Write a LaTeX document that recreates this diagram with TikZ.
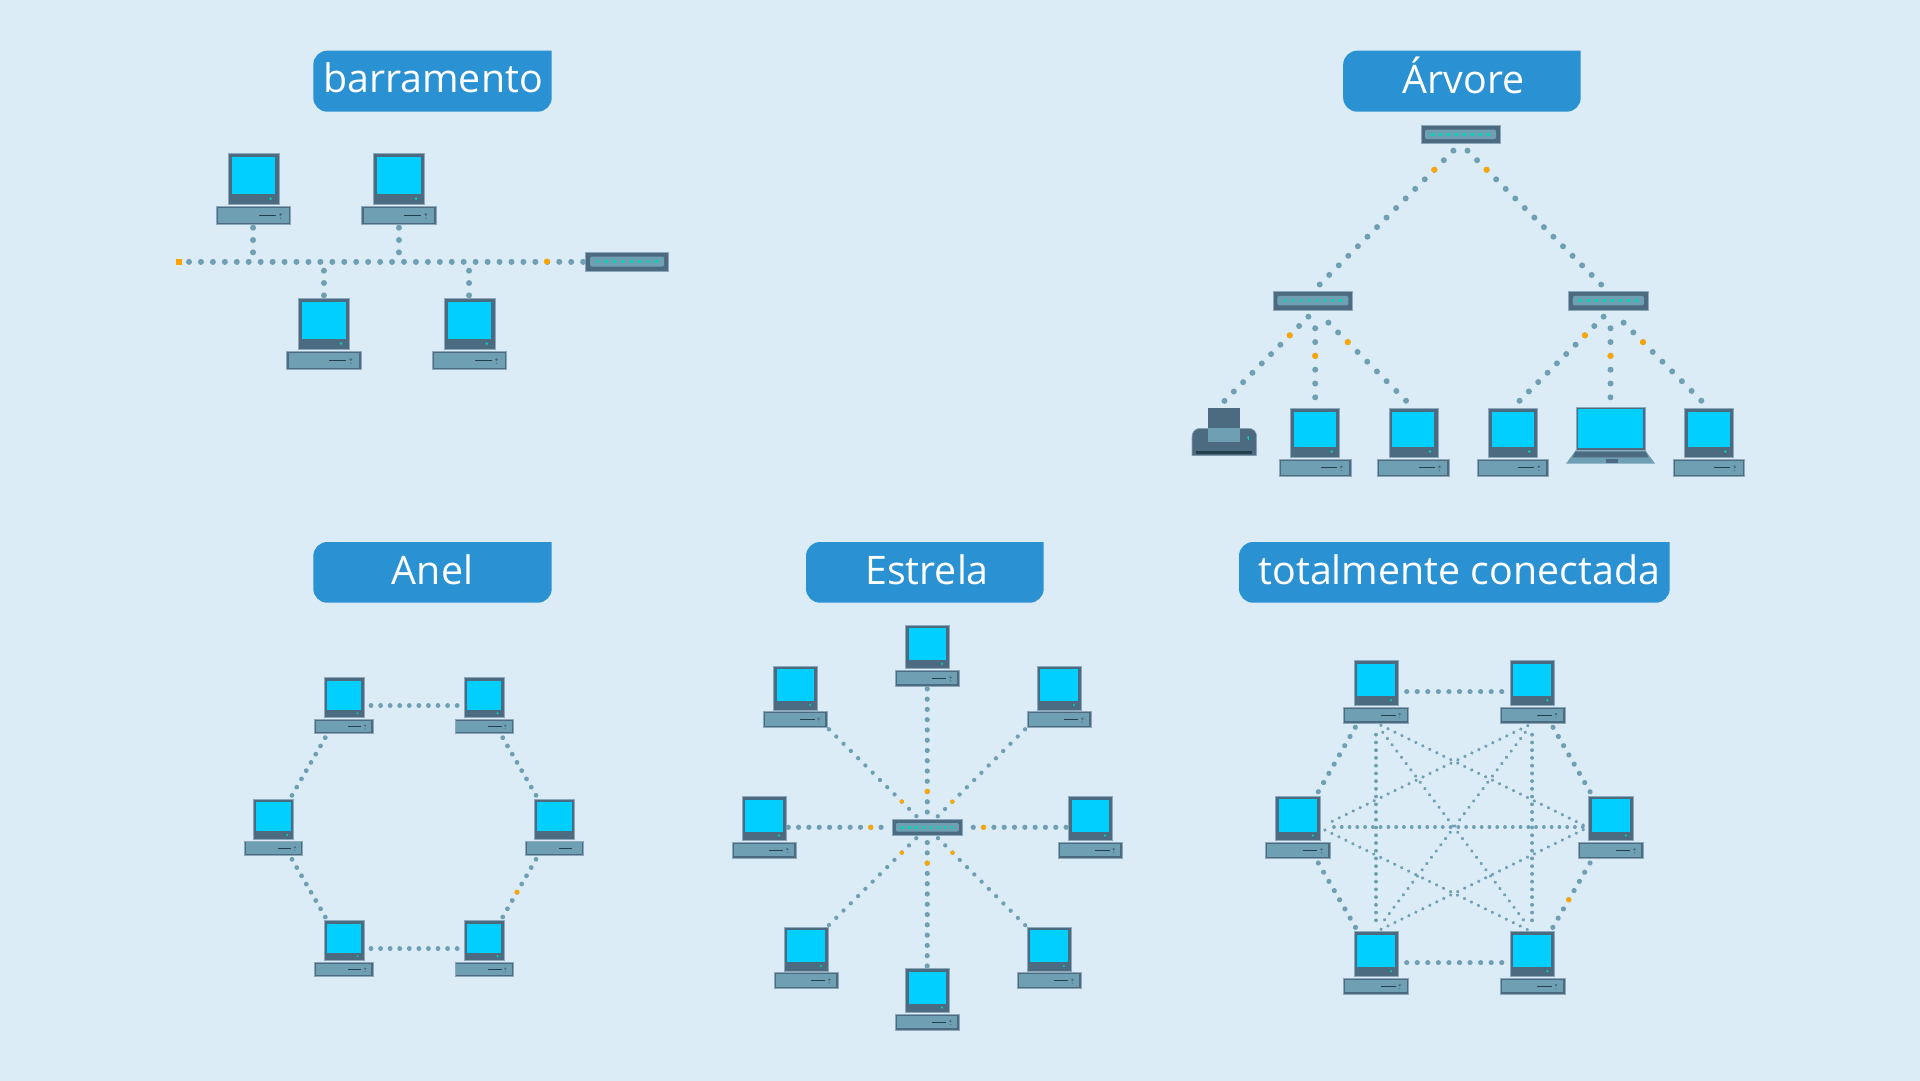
\documentclass[tikz,border=0pt]{standalone}
\usepackage{fontspec}
\setmainfont{Open Sans}
\usetikzlibrary{calc}
\definecolor{bgc}{HTML}{DCECF7}
\definecolor{titlec}{HTML}{2A91D3}
\definecolor{darkc}{HTML}{4C6B80}
\definecolor{lightc}{HTML}{6E9FB2}
\definecolor{edgec}{HTML}{8CA8BA}
\definecolor{screenc}{HTML}{00CFFF}
\definecolor{ledc}{HTML}{00D6B4}
\definecolor{orangec}{HTML}{FFA500}
\definecolor{slotc}{HTML}{24404C}
\tikzset{
  hitbox/.style={inner sep=0pt,outer sep=0pt},
  titletext/.style={text=white,font=\fontsize{29.5}{35}\selectfont,anchor=base,inner sep=0pt},
  shell/.style={fill=darkc,draw=edgec,line width=0.4pt},
  panel/.style={fill=lightc},
  screen/.style={fill=screenc},
  led/.style={fill=ledc},
  linkdots/.style={draw=lightc,line cap=round,shorten >=-1pt}
}
% [k] orange dot index, period, dot size, start, start offset, end, end offset
\newcommand\dotlink[7][]{%
  \pgfmathsetmacro\dotgap{#2*0.75}\pgfmathsetmacro\dotw{#3*0.75}\pgfmathsetmacro\dotr{#3*0.375}%
  \draw[linkdots,line width=\dotw pt,dash pattern=on 0.01pt off \dotgap pt] ([shift={(#5)}]#4) -- ([shift={(#7)}]#6);%
  \ifx\relax#1\relax\else
    \pgfmathsetmacro\dotpos{#1*#2*0.75}%
    \fill[orangec] ($([shift={(#5)}]#4)!\dotpos pt!([shift={(#7)}]#6)$) circle[radius=\dotr pt];%
  \fi}
% [1 = led and knob] name, cx, top, monitor width
\newcommand\mypc[5][1]{%
  \pgfmathsetmacro\pcs{#5/51}\pgfmathsetmacro\pcw{74.4*\pcs*0.75}\pgfmathsetmacro\pch{71.4*\pcs*0.75}\pgfmathsetmacro\pcmid{#4+35.7*\pcs}%
  \node[hitbox,minimum width=\pcw pt,minimum height=\pch pt] (#2) at (#3,\pcmid) {};%
  \begin{scope}[shift={(#3,#4)},scale=\pcs]
    \filldraw[shell] (-25.5,0) rectangle (25.5,51);
    \fill[screen] (-21.8,3.7) rectangle (21.8,40.7);
    \filldraw[shell] (-37.2,53) rectangle (37.2,71.4);
    \fill[panel] (-35.2,55) rectangle (35.2,69.4);
    \draw[slotc,line width=0.7pt] (5.5,62.2) -- (22.5,62.2);
    \ifnum#1=1
      \fill[led] (17.3,45.3) circle[radius=1.4];
      \fill[darkc] (27.2,61.2) circle[radius=1.5];
      \fill[darkc] (27.2,65) circle[radius=0.7];
    \fi
  \end{scope}}
% name, cx, cy, width
\newcommand\hubbox[4]{%
  \pgfmathsetmacro\hubs{#4/83}\pgfmathsetmacro\hubw{#4*0.75}\pgfmathsetmacro\hubh{#4*0.2336*0.75}%
  \node[hitbox,minimum width=\hubw pt,minimum height=\hubh pt] (#1) at (#2,#3) {};%
  \begin{scope}[shift={(#2,#3)},scale=\hubs]
    \filldraw[shell] (-41.5,-9.7) rectangle (41.5,9.7);
    \fill[panel,rounded corners=1pt] (-37,-5) rectangle (37,5);
    \foreach \i in {0,...,7} \fill[led] ({-29.2+8.33*\i-1.4},-1.4) rectangle ++(2.8,2.8);
  \end{scope}}
% name, x1, y1, x2, y2, text x, baseline y, text
\newcommand\titlebox[8]{%
  \fill[titlec,rounded corners=10.5pt] (#4,#3) -- (#4,#5) -- (#2,#5) -- (#2,#3) -- ($(#4,#3)+(-1,0)$);
  \node[titletext] (#1) at (#6,#7) {#8};}

\begin{document}
\begin{tikzpicture}[x=0.75pt,y=-0.75pt]
\useasboundingbox (0,0) rectangle (1920,1081);
\fill[bgc] (0,0) rectangle (1920,1081);

\titlebox{tbus}{313.3}{50.7}{551.7}{111.7}{433}{93}{barramento}
\titlebox{ttree}{1343.2}{50.7}{1580.7}{111.7}{1463.6}{93.7}{Árvore}
\titlebox{tring}{313.3}{542}{551.7}{602.7}{432.5}{584}{Anel}
\titlebox{tstar}{806}{542}{1043.7}{602.7}{927}{584}{Estrela}
\titlebox{tmesh}{1239}{542}{1669.7}{602.7}{1459.3}{584}{totalmente conectada}

% barramento
\mypc{b1}{253.3}{153.3}{51}
\mypc{b2}{398.7}{153.3}{51}
\mypc{b3}{323.7}{298.3}{51}
\mypc{b4}{469.3}{298.3}{51}
\hubbox{bsw}{627.2}{261.5}{83}
\coordinate (busleft) at (178.7,261.5);
\coordinate (j1) at (253.3,252.3);
\coordinate (j2) at (398.7,252.3);
\coordinate (j3) at (323.7,270.7);
\coordinate (j4) at (469.3,270.7);
\dotlink[30]{11.93}{6}{busleft}{10.3,0}{bsw.west}{-3,0}
\fill[orangec] ($(busleft)+(-3,-3)$) rectangle ($(busleft)+(3,3)$);
\dotlink{12.3}{6}{b1.south}{0,3}{j1}{0,0}
\dotlink{12.3}{6}{b2.south}{0,3}{j2}{0,0}
\dotlink{12.3}{6}{j3}{0,0}{b3.north}{0,-3}
\dotlink{12.3}{6}{j4}{0,0}{b4.north}{0,-3}

% Arvore
\hubbox{h0}{1460.6}{134.35}{79.6}
\hubbox{h1}{1312.9}{300.65}{79.6}
\hubbox{h2}{1608.3}{300.65}{79.6}
\mypc{p1}{1315.2}{408}{49}
\mypc{p2}{1413.3}{408}{49}
\mypc{p3}{1512.6}{408}{49}
\mypc{p4}{1708.7}{408}{49}
% printer
\node[hitbox,minimum width=48.5pt,minimum height=36pt] (printer) at (1224.35,431.7) {};
\begin{scope}[shift={(1224.35,407.7)}]
  \fill[darkc] (-16,0) rectangle (16,21);
  \filldraw[shell,rounded corners=6pt] (-32.35,48) -- (-32.35,20.6) -- (32.35,20.6) -- (32.35,48);
  \fill[panel] (-16,20.6) rectangle (16,34);
  \fill[led] (23.2,28) rectangle (24.3,32.5);
  \fill[led] (22.5,29) rectangle (25,30);
  \fill[slotc] (-28,43.3) rectangle (28,46.3);
\end{scope}
% laptop
\node[hitbox,minimum width=66.75pt,minimum height=42pt] (laptop) at (1610.5,435.7) {};
\begin{scope}[shift={(1610.5,407.7)}]
  \fill[panel] (-34.4,42) -- (34.4,42) -- (44.5,56) -- (-44.5,56) -- cycle;
  \filldraw[shell] (-34.4,0) rectangle (34.4,42.3);
  \fill[screen] (-32.8,1.7) rectangle (32.8,40.7);
  \fill[darkc] (-35,44) -- (35,44) -- (38,49.7) -- (-38,49.7) -- cycle;
  \fill[darkc] (-4.5,51.3) rectangle (7.5,55.3);
\end{scope}
\dotlink[2]{13.5}{6}{h0.south}{-7.2,7}{h1.north}{6.9,-7}
\dotlink[2]{13.5}{6}{h0.south}{6.9,7}{h2.north}{-7.3,-7}
\dotlink[2]{13.2}{6}{h1.south}{-4.5,6.7}{printer.north}{0,-6.7}
\dotlink[2]{13.8}{6}{h1.south}{2.3,18.3}{p1.north}{0,-10.7}
\dotlink[2]{13.75}{6}{h1.south}{15.5,12.7}{p2.north}{-7.3,-7.3}
\dotlink[2]{13.2}{6}{h2.south}{-4.7,6.7}{p3.north}{7,-7.3}
\dotlink[2]{13.8}{6}{h2.south}{2.2,18.3}{laptop.north}{0,-10.4}
\dotlink[2]{13.75}{6}{h2.south}{15.3,12.7}{p4.north}{-7.4,-7.3}

% Anel
\mypc{a1}{343.8}{677.7}{40}
\mypc{a2}{484}{677.7}{40}
\mypc{a3}{273.5}{799.3}{40}
\mypc[0]{a4}{554.5}{799.3}{40}
\mypc{a5}{343.8}{920.7}{40}
\mypc{a6}{484}{920.7}{40}
\dotlink{9.56}{4.8}{a1.east}{-2,0}{a2.west}{2.2,0}
\dotlink{9.56}{4.8}{a5.east}{-2,0}{a6.west}{2.2,0}
\dotlink{9.5}{4.8}{a1.south}{-18.5,4}{a3.north}{18.5,-4}
\dotlink{9.5}{4.8}{a2.south}{18.7,4}{a4.north}{-18.5,-4}
\dotlink{9.5}{4.8}{a3.south}{18.5,4}{a5.north}{-18.5,-3.7}
\dotlink[4]{9.5}{4.8}{a4.south}{-18.5,4}{a6.north}{18.7,-3.7}

% Estrela
\hubbox{ssw}{927.3}{827.3}{70.7}
\mypc{s1}{927.2}{625}{43.7}
\mypc{s2}{795.3}{666.3}{43.7}
\mypc{s3}{1059}{666.3}{43.7}
\mypc{s4}{764}{796.7}{43.7}
\mypc{s5}{1090.3}{796.7}{43.7}
\mypc{s6}{806}{927.3}{43.7}
\mypc{s7}{1049}{927.3}{43.7}
\mypc{s8}{927.2}{968.7}{43.7}
\dotlink[10]{10.25}{5.2}{s1.south}{0,2.7}{ssw.north}{0,-7.3}
\dotlink[2]{10.27}{5.2}{ssw.south}{0,7}{s8.north}{0,-2.7}
\dotlink[8]{10.3}{5.2}{s4.east}{-7.6,0}{ssw.west}{-11,0}
\dotlink[1]{10.3}{5.2}{ssw.east}{10.6,0}{s5.west}{7.6,0}
\dotlink[10]{10.25}{4.3}{s2.south east}{1.8,1.8}{ssw.north}{-11,-3}
\dotlink[10]{10.25}{4.3}{s3.south west}{-2.1,1.8}{ssw.north}{10.7,-3}
\dotlink[2]{10.25}{4.3}{ssw.south}{-11,2.6}{s6.north}{23,-2.3}
\dotlink[2]{10.25}{4.3}{ssw.south}{10.7,2.6}{s7.north}{-24,-2.3}

% totalmente conectada
\mypc{t1}{1376}{660.7}{44.5}
\mypc{t2}{1532.3}{660.7}{44.5}
\mypc{t3}{1297.7}{796}{44.5}
\mypc{t4}{1610.7}{796}{44.5}
\mypc{t5}{1376}{931.7}{44.5}
\mypc{t6}{1532.3}{931.7}{44.5}
\dotlink{10.55}{5.2}{t1.east}{-1.8,0}{t2.west}{1.9,0}
\dotlink{10.55}{5.2}{t5.east}{-1.8,0}{t6.west}{1.9,0}
\dotlink{10.6}{5.2}{t1.south}{-20.7,4.3}{t3.north}{20.6,-4.3}
\dotlink{10.6}{5.2}{t2.south}{20.7,4.3}{t4.north}{-20.7,-4.3}
\dotlink{10.6}{5.2}{t3.south}{20.6,4.7}{t5.north}{-20.7,-4.7}
\dotlink[4]{10.6}{5.2}{t4.south}{-20.7,4.7}{t6.north}{20.7,-4.7}
\dotlink{7.72}{3.8}{t1.south}{0,11.7}{t5.north}{0,-11.7}
\dotlink{7.72}{3.8}{t2.south}{0,11.7}{t6.north}{0,-11.7}
\dotlink{7.76}{3.8}{t3.east}{3.8,0}{t4.west}{4.1,0}
\dotlink{7.8}{3.6}{t1.south}{6.7,9.3}{t6.north}{-7,-9.4}
\dotlink{7.8}{3.6}{t2.south}{-7,9.3}{t5.north}{6.7,-9.4}
\dotlink{7.76}{3.6}{t3.east}{2.1,-5.85}{t2.south}{-5.3,3}
\dotlink{7.76}{3.6}{t3.east}{-5.2,2.85}{t6.north}{-5.3,-2.4}
\dotlink{7.76}{3.6}{t1.south}{5,2.3}{t4.west}{4.5,-2.45}
\dotlink{7.76}{3.6}{t5.north}{5,-2.4}{t4.west}{4.5,2.85}
\end{tikzpicture}
\end{document}
